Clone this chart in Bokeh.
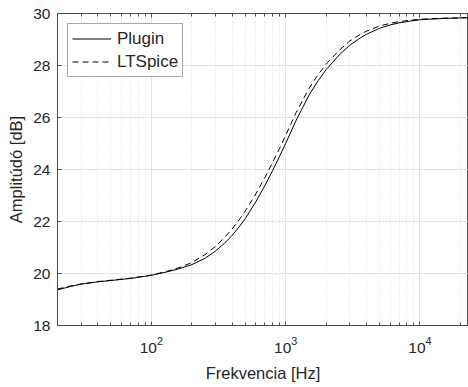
from bokeh.plotting import figure
from bokeh.models import (Range1d, FixedTicker, LogAxis, LogTicker, LogTickFormatter,
                          Legend, LegendItem)
from bokeh.embed import file_html
from bokeh.resources import INLINE

# ---- data ----
freq_hz = [20, 25, 30, 40, 50, 70, 100, 130, 160, 200, 250, 300, 350, 400, 450,
           500, 600, 700, 800, 900, 1000, 1200, 1500, 1750, 2000, 2500, 3000,
           3600, 4000, 5000, 6000, 7000, 8500, 10000, 15000, 23000]
plugin_db = [19.37, 19.50, 19.59, 19.68, 19.73, 19.81, 19.93, 20.06, 20.18, 20.34,
             20.58, 20.86, 21.16, 21.47, 21.79, 22.11, 22.76, 23.38, 23.96, 24.50,
             25.00, 25.90, 26.88, 27.42, 27.84, 28.40, 28.78, 29.06, 29.20, 29.43,
             29.56, 29.64, 29.71, 29.76, 29.81, 29.84]
ltspice_db = [19.40, 19.52, 19.60, 19.69, 19.74, 19.82, 19.94, 20.08, 20.22, 20.42,
              20.72, 21.04, 21.38, 21.72, 22.06, 22.40, 23.06, 23.69, 24.27, 24.81,
              25.31, 26.20, 27.14, 27.66, 28.05, 28.58, 28.94, 29.20, 29.32, 29.52,
              29.62, 29.69, 29.74, 29.78, 29.82, 29.84]
series_names = ["Plugin", "LTSpice"]
x_major_ticks = [100, 1000, 10000]
x_minor_ticks = [20, 30, 40, 50, 60, 70, 80, 90,
                 200, 300, 400, 500, 600, 700, 800, 900,
                 2000, 3000, 4000, 5000, 6000, 7000, 8000, 9000, 20000]
y_ticks = [18, 20, 22, 24, 26, 28, 30]
x_label = "Frekvencia [Hz]"
y_label = "Amplitúdó [dB]"

FONT = "Liberation Sans"
AX = "#4d4d4d"
TXT = "#262626"

p = figure(width=468, height=387, x_axis_type="log",
           x_range=Range1d(20, 23000), y_range=Range1d(18, 30),
           output_backend="svg", toolbar_location=None,
           min_border_left=57, min_border_right=0, min_border_top=13,
           min_border_bottom=62)
p.background_fill_color = "white"
p.border_fill_color = "white"
p.outline_line_color = AX
p.outline_line_width = 1

r1 = p.line(freq_hz, plugin_db, line_color="black", line_width=1)
r2 = p.line(freq_hz, ltspice_db, line_color="black", line_width=1, line_dash="6 4")

xt = FixedTicker(ticks=x_major_ticks, minor_ticks=x_minor_ticks)
yt = FixedTicker(ticks=y_ticks, minor_ticks=[])

xa = p.xaxis[0]
xa.ticker = xt
xa.formatter = LogTickFormatter(ticker=LogTicker())
ya = p.yaxis[0]
ya.ticker = yt

for ax in (xa, ya):
    ax.axis_line_color = AX
    ax.major_tick_line_color = AX
    ax.minor_tick_line_color = AX
    ax.major_tick_in = 4
    ax.major_tick_out = 0
    ax.minor_tick_in = 3
    ax.minor_tick_out = 0
    ax.major_label_text_font = FONT
    ax.major_label_text_font_size = "15.5px"
    ax.major_label_text_color = TXT
    ax.axis_label_text_font = FONT
    ax.axis_label_text_font_size = "16.5px"
    ax.axis_label_text_font_style = "normal"
    ax.axis_label_text_color = TXT

xa.axis_label = x_label
ya.axis_label = y_label
xa.major_label_standoff = 11
xa.axis_label_standoff = 8
ya.major_label_standoff = 7
ya.axis_label_standoff = 5

# top axis with ticks only
top = LogAxis(ticker=FixedTicker(ticks=x_major_ticks, minor_ticks=x_minor_ticks),
              major_label_overrides={t: "" for t in x_major_ticks},
              major_label_standoff=0,
              axis_line_color=AX, major_tick_line_color=AX, minor_tick_line_color=AX,
              major_tick_in=4, major_tick_out=0, minor_tick_in=3, minor_tick_out=0)
p.add_layout(top, "above")

p.xgrid.ticker = xt
p.ygrid.ticker = yt
p.xgrid.grid_line_color = "#e3e3e3"
p.ygrid.grid_line_color = "#e3e3e3"
p.xgrid.minor_grid_line_color = "#d9d9d9"
p.xgrid.minor_grid_line_dash = "1 2"

legend = Legend(items=[LegendItem(label=series_names[0], renderers=[r1]),
                       LegendItem(label=series_names[1], renderers=[r2])],
                location="top_left", margin=10, padding=4, spacing=2,
                glyph_width=39, glyph_height=21, label_height=21,
                label_standoff=6,
                label_text_font=FONT, label_text_font_size="17px",
                label_text_color=TXT,
                border_line_color=AX, border_line_width=1,
                background_fill_color="white", background_fill_alpha=1)
p.add_layout(legend)

open("out.html", "w").write(file_html(p, INLINE))
